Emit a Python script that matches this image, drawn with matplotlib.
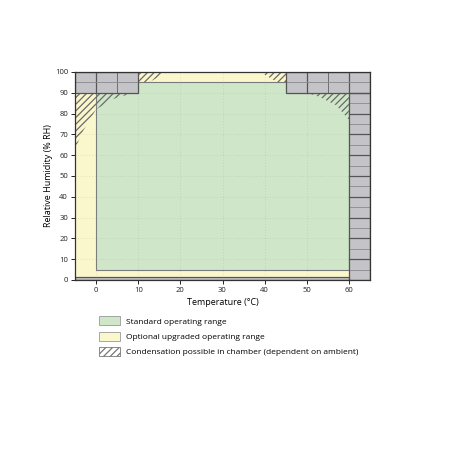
import matplotlib
matplotlib.use("Agg")
import matplotlib.pyplot as plt
from matplotlib.patches import Polygon, Rectangle, Patch
import numpy as np

plt.rcParams['font.family'] = ['Open Sans', 'DejaVu Sans']
plt.rcParams['hatch.linewidth'] = 0.9

# Data: operating envelopes (temperature °C, humidity %RH)
standard_range = [(0, 5), (60, 5), (60, 90), (45, 90), (45, 95), (10, 95), (10, 90), (0, 90)]
optional_range = [(-5, 1.5), (60, 1.5), (60, 90), (45, 90), (45, 100), (10, 100), (10, 90), (-5, 90)]
# blocked (gray) zones: (x0, y0, width, height)
blocked_zones = [(-5, 90, 15, 10), (45, 90, 20, 10), (60, 0, 5, 90), (-5, 0, 65, 1.5)]
# condensation zones
condensation_zones = [
    [(-5, 63), (-5, 90), (9, 90), (4, 87), (0, 82), (-3, 72)],
    [(50, 90), (60, 90), (60, 77), (57, 84), (53, 88)],
    [(10, 95), (10, 100), (17, 100), (12.5, 95)],
    [(39, 100), (45, 100), (45, 95), (43, 95)],
]
x_ticks = [0, 10, 20, 30, 40, 50, 60]
y_ticks = [0, 10, 20, 30, 40, 50, 60, 70, 80, 90, 100]
legend_labels = ["Standard operating range", "Optional upgraded operating range",
                 "Condensation possible in chamber (dependent on ambient)"]

green = '#cfe6c9'
yellow = '#fbf7cc'
gray = '#c4c4c8'

fig = plt.figure(figsize=(4.5, 4.5), dpi=100)
ax = fig.add_axes([75/450, 1-280/450, 295/450, 208/450])
ax.set_xlim(-5, 65)
ax.set_ylim(0, 100)

ax.add_patch(Polygon(optional_range, closed=True, facecolor=yellow, edgecolor='none', zorder=1))
ax.add_patch(Polygon(standard_range, closed=True, facecolor=green, edgecolor='#7a7a7a', lw=0.8, zorder=2))

# faint grid
for gx in range(0, 61, 10):
    ax.plot([gx, gx], [0, 100], color='#9aa59a', lw=0.5, ls=(0, (1, 3)), alpha=0.5, zorder=3)
for gy in range(10, 100, 10):
    ax.plot([-5, 65], [gy, gy], color='#9aa59a', lw=0.5, ls=(0, (1, 3)), alpha=0.5, zorder=3)

for poly in condensation_zones:
    ax.add_patch(Polygon(poly, closed=True, facecolor='none', edgecolor='#6a6a6a',
                         hatch='/////', lw=0, zorder=4))

for (x0, y0, w, h) in blocked_zones:
    ax.add_patch(Rectangle((x0, y0), w, h, facecolor=gray, edgecolor='none', zorder=5))
    if h > 2:
        for cx in np.arange(x0 + 5, x0 + w, 5):
            ax.plot([cx, cx], [y0, y0 + h], color='#555' if cx % 10 == 0 else '#6e6e72',
                    lw=0.9 if cx % 10 == 0 else 0.7, zorder=6)
        for cy in np.arange(y0 + 5, y0 + h, 5):
            ax.plot([x0, x0 + w], [cy, cy], color='#555' if cy % 10 == 0 else '#8a8a8e',
                    lw=0.9 if cy % 10 == 0 else 0.6, zorder=6)
    ax.add_patch(Rectangle((x0, y0), w, h, facecolor='none', edgecolor='#555', lw=0.9, zorder=7))

for s in ax.spines.values():
    s.set_color('#333')
    s.set_linewidth(0.9)
    s.set_zorder(8)

ax.set_xticks(x_ticks)
ax.set_yticks(y_ticks)
ax.set_xticks(np.arange(-5, 65, 5), minor=True)
ax.tick_params(axis='both', which='major', labelsize=5.5, length=3, width=0.7, colors='#222', pad=2)
ax.tick_params(axis='x', which='minor', length=2, width=0.5, direction='in', colors='#555')
ax.set_xlabel("Temperature (°C)", fontsize=6.5, labelpad=3)
ax.set_ylabel("Relative Humidity (% RH)", fontsize=6.5, labelpad=1)

handles = [Patch(facecolor=green, edgecolor='#999', lw=0.6),
           Patch(facecolor=yellow, edgecolor='#999', lw=0.6),
           Patch(facecolor='white', edgecolor='#777', hatch='/////', lw=0.6)]
fig.legend(handles, legend_labels, loc='upper left', bbox_to_anchor=(96/450, 1-313/450),
           frameon=False, fontsize=6.0, handlelength=2.5, handleheight=1.3,
           labelspacing=0.7, handletextpad=0.75, borderaxespad=0)

fig.savefig("out.png", dpi=100)
